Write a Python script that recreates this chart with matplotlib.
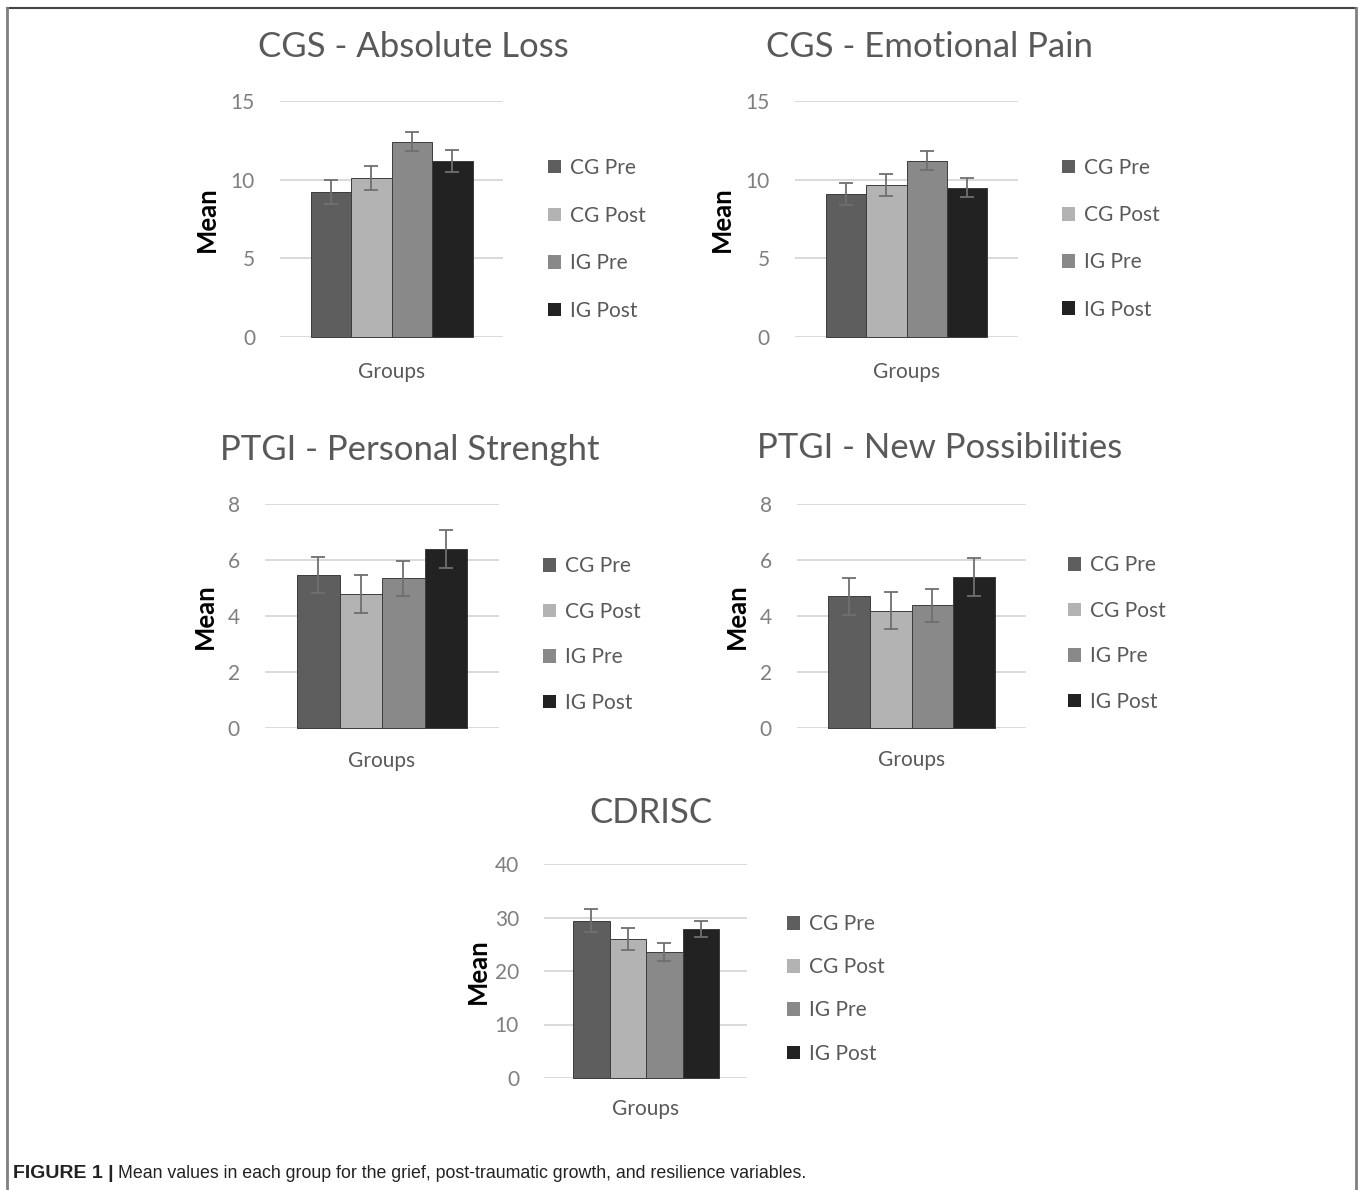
import matplotlib
matplotlib.use("Agg")
import matplotlib.pyplot as plt
from matplotlib.patches import Patch
from matplotlib.lines import Line2D

# ---------------- data ----------------
groups = ["CG Pre", "CG Post", "IG Pre", "IG Post"]

cgs_absolute_loss = [9.2, 10.1, 12.4, 11.2]
cgs_absolute_loss_err = [0.75, 0.75, 0.6, 0.7]

cgs_emotional_pain = [9.1, 9.65, 11.2, 9.5]
cgs_emotional_pain_err = [0.7, 0.7, 0.6, 0.6]

ptgi_personal_strength = [5.47, 4.8, 5.34, 6.4]
ptgi_personal_strength_err = [0.65, 0.68, 0.63, 0.67]

ptgi_new_possibilities = [4.7, 4.19, 4.38, 5.39]
ptgi_new_possibilities_err = [0.65, 0.65, 0.6, 0.67]

cdrisc = [29.4, 26.0, 23.55, 27.85]
cdrisc_err = [2.1, 2.1, 1.6, 1.55]

titles = ["CGS - Absolute Loss", "CGS - Emotional Pain",
          "PTGI - Personal Strenght", "PTGI - New Possibilities", "CDRISC"]
y_ticks_small = [0, 5, 10, 15]
y_ticks_ptgi = [0, 2, 4, 6, 8]
y_ticks_cd = [0, 10, 20, 30, 40]

colors = ["#5e5e5e", "#b3b3b3", "#898989", "#222222"]

# ---------------- layout ----------------
W, H = 1358, 1190
FONT = "Lato"
plt.rcParams["font.family"] = [FONT, "DejaVu Sans"]
fig = plt.figure(figsize=(W / 100, H / 100), dpi=100)
fig.patch.set_facecolor("white")

panels = [
    dict(vals=cgs_absolute_loss, err=cgs_absolute_loss_err, ticks=y_ticks_small,
         gx=(280, 503), gy=(101, 337), bx=(310.7, 472.7), title=titles[0],
         tpos=(413, 47), mean_x=207, groups_y=372, leg=(548, 166, 48.4)),
    dict(vals=cgs_emotional_pain, err=cgs_emotional_pain_err, ticks=y_ticks_small,
         gx=(795, 1018), gy=(101, 337), bx=(826, 987), title=titles[1],
         tpos=(930, 47), mean_x=722, groups_y=372, leg=(1062, 166, 48.0)),
    dict(vals=ptgi_personal_strength, err=ptgi_personal_strength_err, ticks=y_ticks_ptgi,
         gx=(265, 499), gy=(504, 728), bx=(297, 467), title=titles[2],
         tpos=(410, 450), mean_x=205, groups_y=761, leg=(543, 564, 46.4)),
    dict(vals=ptgi_new_possibilities, err=ptgi_new_possibilities_err, ticks=y_ticks_ptgi,
         gx=(797, 1026), gy=(504, 728), bx=(828, 995), title=titles[3],
         tpos=(940, 448), mean_x=737, groups_y=760, leg=(1068, 563, 46.4)),
    dict(vals=cdrisc, err=cdrisc_err, ticks=y_ticks_cd,
         gx=(544, 747), gy=(864, 1078), bx=(573, 719), title=titles[4],
         tpos=(651, 813), mean_x=478, groups_y=1109, leg=(787, 922, 44.0)),
]

TXT = "#595959"
TICK = "#7f7f7f"
GRID = "#d9d9d9"
FS = 15

for p in panels:
    gx0, gx1 = p["gx"]
    gy0, gy1 = p["gy"]
    ax = fig.add_axes([gx0 / W, 1 - gy1 / H, (gx1 - gx0) / W, (gy1 - gy0) / H])
    bx0, bx1 = p["bx"]
    ppu = (bx1 - bx0) / 4.0
    xs = list(range(len(groups)))
    ax.bar(xs, p["vals"], width=1.0, color=colors, edgecolor="#3c3c3c", linewidth=0.7,
           zorder=3)
    ax.errorbar(xs, p["vals"], yerr=p["err"], fmt="none", ecolor="#6f6f6f",
                elinewidth=1.3, capsize=5, capthick=1.3, zorder=4)
    ax.set_xlim(-0.5 - (bx0 - gx0) / ppu, 3.5 + (gx1 - bx1) / ppu)
    t = p["ticks"]
    ax.set_ylim(t[0], t[-1])
    ax.set_yticks(t)
    ax.yaxis.grid(True, color=GRID, linewidth=1.4, zorder=0)
    ax.set_axisbelow(True)
    ax.set_xticks([])
    for s in ax.spines.values():
        s.set_visible(False)
    ax.tick_params(axis="y", length=0, pad=18, labelsize=FS, labelcolor=TICK)
    for art in ax.get_children():
        try:
            art.set_clip_on(False)
        except Exception:
            pass
    ax.set_ylabel("Mean", fontsize=18.5, fontweight="bold", color="black")
    ax.yaxis.set_label_coords((p["mean_x"] - gx0) / (gx1 - gx0), 0.5)
    ax.set_xlabel("Groups", fontsize=FS, color=TXT)
    ax.xaxis.set_label_coords(0.5, -(p["groups_y"] - gy1) / (gy1 - gy0))
    ax.xaxis.label.set_va("center")
    ax.yaxis.label.set_va("center")
    fig.text(p["tpos"][0] / W, 1 - p["tpos"][1] / H, p["title"], fontsize=25,
             color=TXT, ha="center", va="center")
    lx, ly, lsp = p["leg"]
    handles = [Patch(facecolor=c, edgecolor="none") for c in colors]
    fs_px = FS * 100 / 72
    fig.legend(handles, groups, loc="upper left",
               bbox_to_anchor=(lx / W, 1 - (ly - fs_px * 0.62 + 5) / H),
               frameon=False, fontsize=FS, handlelength=0.62, handleheight=0.62,
               handletextpad=0.45, labelspacing=(lsp - fs_px) / fs_px,
               borderpad=0, borderaxespad=0, labelcolor=TXT)

# ---------------- frame ----------------
fig.add_artist(Line2D([7 / W, 1356 / W], [1 - 8 / H, 1 - 8 / H], transform=fig.transFigure,
                      color="#444444", linewidth=1.5))
fig.add_artist(Line2D([7 / W, 7 / W], [1 - 8 / H, 0], transform=fig.transFigure,
                      color="#808080", linewidth=2))
fig.add_artist(Line2D([1356 / W, 1356 / W], [1 - 8 / H, 0], transform=fig.transFigure,
                      color="#808080", linewidth=2))

# ---------------- caption ----------------
cap_y = 1 - 1173 / H
t1 = fig.text(13 / W, cap_y, "FIGURE 1 |", fontsize=14, fontweight="bold",
              family=["Liberation Sans", "DejaVu Sans"], color="#222222", va="center")
fig.canvas.draw()
bb = t1.get_window_extent()
fig.text((bb.x1 + 4) / W, cap_y,
         "Mean values in each group for the grief, post-traumatic growth, and resilience variables.",
         fontsize=12.8, family=["Liberation Sans", "DejaVu Sans"], color="#222222", va="center")

fig.savefig("out.png", dpi=100)
